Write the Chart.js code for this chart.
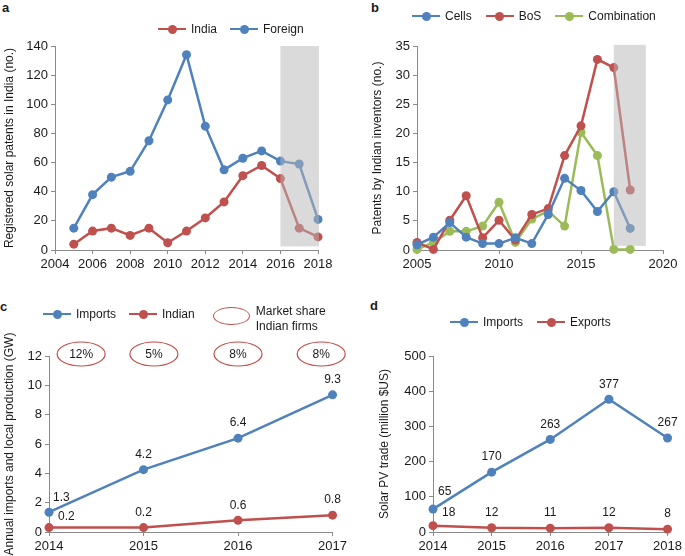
<!DOCTYPE html>
<html><head><meta charset="utf-8">
<script src="https://cdn.jsdelivr.net/npm/chart.js@4"></script>
<style>
html,body{margin:0;padding:0;background:#fff;}
body{width:685px;height:556px;position:relative;overflow:hidden;font-family:"Liberation Sans",Arial,sans-serif;color:#1a1a1a;}
canvas{position:absolute;}
.lbl{position:absolute;font-weight:bold;font-size:13px;line-height:13px;}
.leg{position:absolute;display:flex;align-items:center;font-size:12px;line-height:14px;height:14px;white-space:nowrap;}
.item{display:flex;align-items:center;}
.mk{position:relative;width:28px;height:10px;margin-right:5px;}
.mk .ln{position:absolute;left:0;right:0;top:3.75px;height:2.5px;}
.mk .dt{position:absolute;left:9.5px;top:0.5px;width:9px;height:9px;border-radius:50%;}
.ell{width:37px;height:18px;border:1.2px solid #C0504D;border-radius:50%;margin-right:6px;box-sizing:border-box;position:relative;top:2px;}
</style>
</head><body>
<div class="lbl" style="left:2px;top:1px">a</div>
<div class="lbl" style="left:371px;top:1px">b</div>
<div class="lbl" style="left:0px;top:300px">c</div>
<div class="lbl" style="left:370px;top:299px">d</div>
<canvas id="ca" width="345" height="246" style="left:0px;top:30px"></canvas>
<canvas id="cb" width="340" height="246" style="left:345px;top:30px"></canvas>
<canvas id="cc" width="350" height="236" style="left:0px;top:320px"></canvas>
<canvas id="cd" width="340" height="216" style="left:345px;top:340px"></canvas>
<script>
// ---------- data ----------
const yearsA = [2005,2006,2007,2008,2009,2010,2011,2012,2013,2014,2015,2016,2017,2018];
const indiaA = [4,13,15,10,15,5,13,22,33,51,58,49,15,9];
const foreignA = [15,38,50,54,75,103,134,85,55,63,68,61,59,21];

const yearsB = [2005,2006,2007,2008,2009,2010,2011,2012,2013,2014,2015,2016,2017,2018];
const cellsB = [0.9,2.2,4.7,2.2,1.1,1.1,2.1,1.1,6.1,12.3,10.2,6.6,10,3.7];
const bosB = [1.3,0.1,5.1,9.3,2.1,5.1,1.7,6.1,7.1,16.2,21.3,32.7,31.3,10.3];
const combB = [0.1,1.3,3.2,3.2,4.1,8.2,1.3,5.3,6.7,4.1,20.2,16.2,0.1,0.1];

const yearsC = [2014,2015,2016,2017];
const importsC = [1.35,4.25,6.4,9.35];
const indianC = [0.3,0.3,0.8,1.15];
const importsCText = ['1.3','4.2','6.4','9.3'];
const indianCText = ['0.2','0.2','0.6','0.8'];
const shareC = ['12%','5%','8%','8%'];

const yearsD = [2014,2015,2016,2017,2018];
const importsD = [65,170,263,377,267];
const exportsD = [18,12,11,12,8];

const ticksA_X = [2004,2018,2], ticksA_Y = [0,140,20];
const ticksB_X = [2005,2020,5], ticksB_Y = [0,35,5];
const ticksC_X = [2014,2017,1], ticksC_Y = [0,12,2];
const ticksD_X = [2014,2018,1], ticksD_Y = [0,500,100];

// ---------- styles ----------
const BLUE='#4F81BD', RED='#C0504D', GREEN='#9BBB59', AX='#8a8a8a', TXT='#1a1a1a';
const FONT='"Liberation Sans", Arial, sans-serif';
Chart.defaults.font.family = FONT;
Chart.defaults.color = TXT;

function ds(label, xs, ys, color){
  return {label, data: xs.map((x,i)=>({x, y: ys[i]})), borderColor: color, backgroundColor: color,
    borderWidth: 2.5, pointRadius: 4.5, pointHoverRadius: 4.5, pointBorderWidth: 0, tension: 0, clip: false};
}
function axisCommon(){
  return {grid:{display:true,drawOnChartArea:false,drawTicks:true,tickLength:4,color:AX,lineWidth:1},
          border:{display:true,color:AX,width:1}};
}
function xAxis(t, h){
  return Object.assign(axisCommon(), {type:'linear', min:t[0], max:t[1],
    ticks:{stepSize:t[2], autoSkip:false, maxRotation:0, color:TXT, font:{size:13}, padding:3, callback:v=>String(v)},
    afterFit:s=>{s.height=h;}});
}
function yAxis(t, title, w){
  return Object.assign(axisCommon(), {type:'linear', min:t[0], max:t[1],
    ticks:{stepSize:t[2], color:TXT, font:{size:13}, padding:3, callback:v=>String(v)},
    title:{display:true, text:title, color:TXT, font:{size:12}, padding:{top:2,bottom:0}},
    afterFit:s=>{s.width=w;}});
}

const shadePlugin = {id:'shade', afterDatasetsDraw(chart, args, o){
  if(!o || !o.range) return;
  const {x, y} = chart.scales, r = o.range, ctx = chart.ctx;
  const x0 = x.getPixelForValue(r[0]), x1 = x.getPixelForValue(r[1]);
  const y0 = y.getPixelForValue(r[3]), y1 = y.getPixelForValue(r[2]);
  ctx.save(); ctx.fillStyle='rgba(181,181,181,0.5)'; ctx.fillRect(x0, y0, x1-x0, y1-y0); ctx.restore();
}};

const valuePlugin = {id:'vals', afterDatasetsDraw(chart, args, o){
  if(!o || !o.sets) return;
  const ctx = chart.ctx; ctx.save();
  ctx.font = '12px ' + FONT; ctx.fillStyle = TXT; ctx.textBaseline = 'middle';
  o.sets.forEach(s=>{
    chart.getDatasetMeta(s.ds).data.forEach((pt,i)=>{
      if(i===0){ ctx.textAlign='left'; ctx.fillText(s.text[i], pt.x + s.first[0], pt.y + s.first[1]); }
      else { ctx.textAlign='center'; ctx.fillText(s.text[i], pt.x, pt.y - 15); }
    });
  });
  ctx.restore();
}};

const sharePlugin = {id:'share', afterDraw(chart, args, o){
  if(!o || !o.text) return;
  const ctx = chart.ctx, xs = chart.scales.x, ys = chart.scales.y;
  ctx.save(); ctx.strokeStyle = RED; ctx.lineWidth = 1.2;
  ctx.font = '12px ' + FONT; ctx.fillStyle = TXT; ctx.textAlign='center'; ctx.textBaseline='middle';
  o.text.forEach((t,i)=>{
    const cx = xs.getPixelForValue(o.at[i]), cy = ys.getPixelForValue(o.level) - 2;
    ctx.beginPath(); ctx.ellipse(cx, cy, 24, 12, 0, 0, Math.PI*2); ctx.stroke();
    ctx.fillText(t, cx, cy + 1);
  });
  ctx.restore();
}};

function make(id, datasets, scales, padding, plugins){
  return new Chart(document.getElementById(id), {
    type:'line', data:{datasets},
    options:{responsive:false, animation:false, events:[],
      layout:{padding},
      scales,
      plugins:Object.assign({legend:{display:false}, tooltip:{enabled:false}}, plugins)},
    plugins:[shadePlugin, valuePlugin, sharePlugin]
  });
}

const chA = make('ca', [ds('India', yearsA, indiaA, RED), ds('Foreign', yearsA, foreignA, BLUE)],
  {x:xAxis(ticksA_X, 26), y:yAxis(ticksA_Y, 'Registered solar patents in India (no.)', 55)},
  {left:0, right:27, top:16, bottom:0},
  {shade:{range:[2016, 2018.05, 2.5, 140]}});

const chB = make('cb', [ds('Cells', yearsB, cellsB, BLUE), ds('BoS', yearsB, bosB, RED), ds('Combination', yearsB, combB, GREEN)],
  {x:xAxis(ticksB_X, 26), y:yAxis(ticksB_Y, 'Patents by Indian inventors (no.)', 49)},
  {left:23, right:22, top:16, bottom:0},
  {shade:{range:[2017, 2018.95, 0.7, 35.2]}});

const chC = make('cc', [ds('Imports', yearsC, importsC, BLUE), ds('Indian', yearsC, indianC, RED)],
  {x:xAxis(ticksC_X, 24), y:yAxis(ticksC_Y, 'Annual imports and local production (GW)', 49)},
  {left:0, right:17, top:36, bottom:0},
  {vals:{sets:[{ds:0, text:importsCText, first:[4,-15]}, {ds:1, text:indianCText, first:[9,-11]}]},
   share:{text:shareC, at:[2014.34, 2015.11, 2016.0, 2016.88], level:12}});

const chD = make('cd', [ds('Imports', yearsD, importsD, BLUE), ds('Exports', yearsD, exportsD, RED)],
  {x:xAxis(ticksD_X, 24), y:yAxis(ticksD_Y, 'Solar PV trade (million $US)', 58)},
  {left:30, right:14, top:16, bottom:0},
  {vals:{sets:[{ds:0, text:importsD.map(String), first:[5,-17]}, {ds:1, text:exportsD.map(String), first:[9,-13]}]}});

// ---------- HTML legends built from datasets ----------
function legend(chart, x, yc, gap, extra){
  const d = document.createElement('div'); d.className='leg';
  d.style.left = x+'px'; d.style.top = (yc-7)+'px';
  chart.data.datasets.forEach((s,i)=>{
    const it = document.createElement('div'); it.className='item';
    if(i>0) it.style.marginLeft = gap+'px';
    it.innerHTML = '<div class="mk"><div class="ln" style="background:'+s.borderColor+'"></div><div class="dt" style="background:'+s.borderColor+'"></div></div><span>'+s.label+'</span>';
    d.appendChild(it);
  });
  if(extra) extra(d);
  document.body.appendChild(d);
}
legend(chA, 158, 29, 13);
legend(chB, 412, 16, 14);
legend(chC, 43, 314, 13, d=>{
  const it = document.createElement('div'); it.className='item'; it.style.marginLeft='18px';
  it.innerHTML = '<div class="ell"></div><span style="line-height:15px;display:block;position:relative;top:5px">Market share<br>Indian firms</span>';
  d.appendChild(it);
});
legend(chD, 450, 322, 14);
</script>
</body></html>
